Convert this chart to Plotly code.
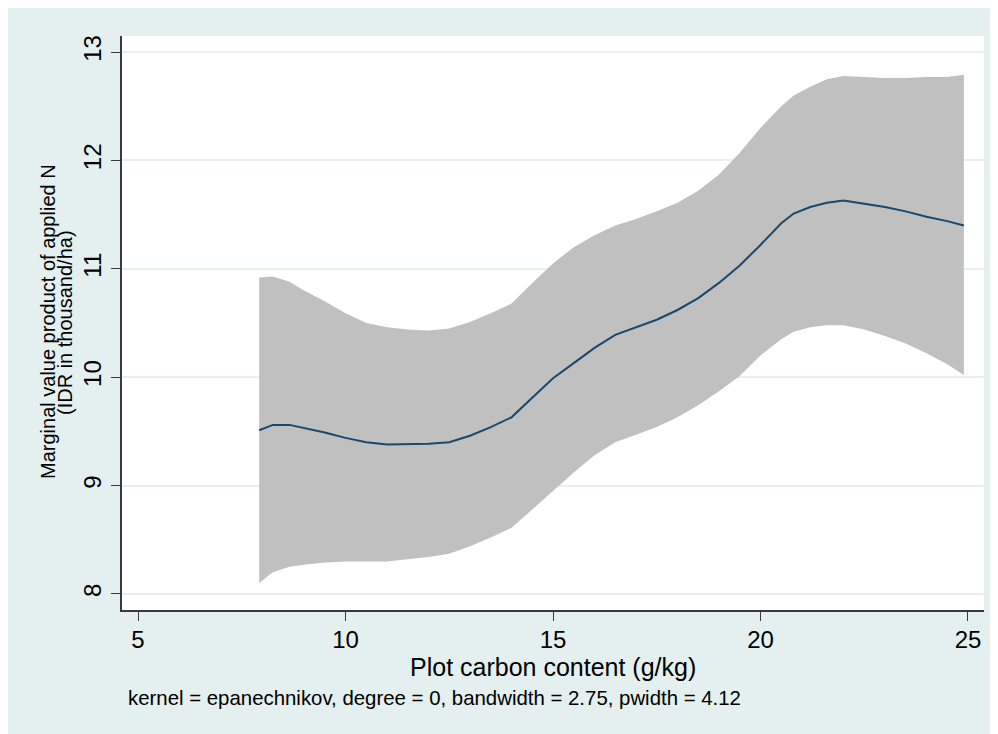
import plotly.graph_objects as go

# Plot carbon content grid (g/kg)
carbon = [7.92, 8.25, 8.65, 9.0, 9.5, 10.0, 10.5, 11.0, 11.5, 12.0, 12.5, 13.0, 13.5,
          14.0, 14.5, 15.0, 15.5, 16.0, 16.5, 17.0, 17.5, 18.0, 18.5, 19.0, 19.5,
          20.0, 20.5, 20.8, 21.2, 21.6, 22.0, 22.5, 23.0, 23.5, 24.0, 24.5, 24.9]

# Smoothed marginal value product
mvp = [9.51, 9.56, 9.56, 9.53, 9.49, 9.44, 9.40, 9.38, 9.38, 9.385, 9.40, 9.46, 9.54,
       9.63, 9.81, 9.99, 10.13, 10.27, 10.39, 10.46, 10.53, 10.62, 10.73, 10.87, 11.03,
       11.22, 11.42, 11.51, 11.57, 11.61, 11.63, 11.60, 11.57, 11.53, 11.48, 11.44, 11.40]

# Confidence band
upper = [10.92, 10.93, 10.88, 10.80, 10.70, 10.59, 10.50, 10.46, 10.44, 10.43, 10.45, 10.51, 10.59,
         10.68, 10.87, 11.05, 11.20, 11.31, 11.40, 11.46, 11.53, 11.61, 11.72, 11.87, 12.07,
         12.30, 12.50, 12.60, 12.68, 12.75, 12.78, 12.77, 12.76, 12.76, 12.77, 12.77, 12.79]
lower = [8.10, 8.20, 8.25, 8.27, 8.29, 8.30, 8.30, 8.30, 8.32, 8.34, 8.37, 8.44, 8.52,
         8.61, 8.78, 8.95, 9.12, 9.28, 9.40, 9.47, 9.54, 9.63, 9.74, 9.87, 10.01,
         10.20, 10.35, 10.42, 10.46, 10.48, 10.48, 10.44, 10.38, 10.31, 10.22, 10.12, 10.02]

x_ticks = [5, 10, 15, 20, 25]
y_ticks = [8, 9, 10, 11, 12, 13]

FONT = "Liberation Sans, Arial, sans-serif"
BG = "#e4efef"
GRID = "#e6f0f1"
AXIS = "#3a3a3a"

fig = go.Figure()
fig.add_trace(go.Scatter(x=carbon, y=upper, mode="lines", line=dict(width=0),
                         showlegend=False, hoverinfo="skip"))
fig.add_trace(go.Scatter(x=carbon, y=lower, mode="lines", line=dict(width=0),
                         fill="tonexty", fillcolor="#c0c0c0",
                         showlegend=False, hoverinfo="skip"))
fig.add_trace(go.Scatter(x=carbon, y=mvp, mode="lines",
                         line=dict(color="#1a476f", width=2),
                         showlegend=False))

# page offset of 8px (body margin) is accounted for in the figure coordinates
OFF = 8
W, H = 990, 726
L, R, T, B = 114, 14, 28, 124
pw, ph = W - L - R, H - T - B

def px(xp):
    return (xp - OFF - L) / pw

def py(yp):
    return (H - B - (yp - OFF)) / ph

fig.update_layout(
    width=W, height=H,
    margin=dict(l=L, r=R, t=T, b=B, pad=0),
    paper_bgcolor=BG,
    plot_bgcolor="white",
    font=dict(family=FONT, color="black"),
    xaxis=dict(range=[4.614, 25.386], tickvals=x_ticks, ticks="outside", ticklen=9,
               tickwidth=1.3, tickcolor=AXIS, showgrid=False, zeroline=False,
               showline=True, linecolor=AXIS, linewidth=2, ticklabelstandoff=-2,
               tickfont=dict(size=24, family=FONT, color="black")),
    yaxis=dict(range=[7.852, 13.148], tickvals=y_ticks, ticks="outside", ticklen=9,
               tickwidth=1.3, tickcolor=AXIS, showgrid=True, gridcolor=GRID, gridwidth=2,
               zeroline=False, showline=True, linecolor=AXIS, linewidth=2,
               tickangle=-90,
               tickfont=dict(size=24, family=FONT, color="black")),
    annotations=[
        dict(text="Plot carbon content (g/kg)", xref="paper", yref="paper",
             x=0.5, y=py(667), xanchor="center", yanchor="middle", showarrow=False,
             font=dict(size=25, family=FONT, color="black")),
        dict(text="kernel = epanechnikov, degree = 0, bandwidth = 2.75, pwidth = 4.12",
             xref="paper", yref="paper", x=px(126), y=py(698), xanchor="left",
             yanchor="middle", showarrow=False,
             font=dict(size=20.4, family=FONT, color="black")),
        dict(text="Marginal value product of applied N", xref="paper", yref="paper",
             x=px(48), y=py(322), xanchor="center", yanchor="middle", textangle=-90,
             showarrow=False, font=dict(size=20, family=FONT, color="black")),
        dict(text="(IDR in thousand/ha)", xref="paper", yref="paper",
             x=px(65), y=py(322), xanchor="center", yanchor="middle", textangle=-90,
             showarrow=False, font=dict(size=20, family=FONT, color="black")),
    ],
)

fig.write_html("out.html")
